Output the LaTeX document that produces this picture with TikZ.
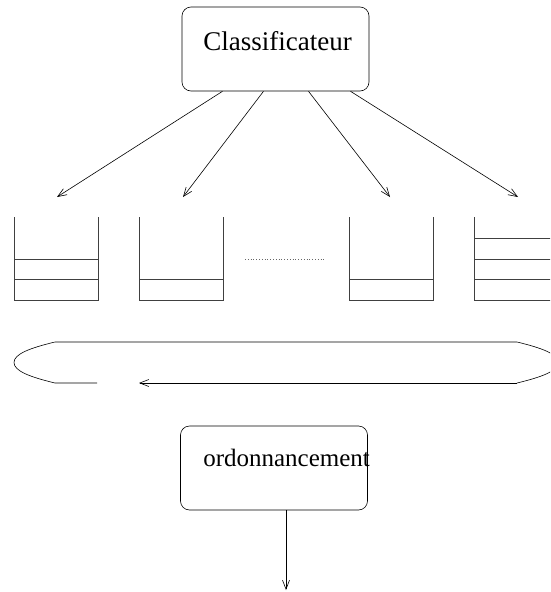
\documentclass[tikz,border=0pt]{standalone}
\usepackage{fontspec}
\setmainfont{Liberation Serif}
\usetikzlibrary{arrows.meta}
\begin{document}
\begin{tikzpicture}[x=1pt,y=-1pt,line width=0.6pt,
  procbox/.style={draw,rounded corners=9pt,minimum width=187pt,minimum height=84pt,inner sep=0pt},
  boxtext/.style={inner sep=0pt,anchor=base west},
  flow/.style={-{Straight Barb[length=9pt,width=7pt,line width=0.6pt]}},
  wall/.style={draw=black!75,line width=0.9pt}]
\useasboundingbox (0,0) rectangle (550,592);
\clip (0,0) rectangle (550,592);

% classifier block
\node[procbox] (cls) at (275.5,49) {};
\node[boxtext,font=\fontsize{27}{32}\selectfont] (clstxt) at (203,50) {Classificateur};

% arrow targets above the queues
\coordinate (t1) at (57,197);
\coordinate (t2) at (183,197);
\coordinate (t3) at (390,197);
\coordinate (t4) at (518,197);
\draw[flow] ([xshift=-53pt]cls.south) -- (t1);
\draw[flow] ([xshift=-12pt]cls.south) -- (t2);
\draw[flow] ([xshift=33pt]cls.south) -- (t3);
\draw[flow] ([xshift=75pt]cls.south) -- (t4);

% queues
\draw[wall] (14,217) -- (14,300) -- (98,300) -- (98,217);
\draw[wall] (14,259) -- (98,259) (14,279) -- (98,279);
\draw[wall] (139,217) -- (139,300) -- (223,300) -- (223,217);
\draw[wall] (139,279) -- (223,279);
\draw[wall] (349,217) -- (349,300) -- (433,300) -- (433,217);
\draw[wall] (349,279) -- (433,279);
\draw[wall] (474,217) -- (474,300) -- (558,300) -- (558,217);
\draw[wall] (474,238) -- (558,238) (474,259) -- (558,259) (474,279) -- (558,279);
\draw[black!60,line width=0.8pt,dotted] (245,259) -- (326,259);

% round-robin loop
\draw (97,383) -- (55,383)
  .. controls (30,377) and (14,371) .. (14,362.5)
  .. controls (14,354) and (30,348) .. (55,342)
  -- (517,342)
  .. controls (542,348) and (558,354) .. (558,362.5)
  .. controls (558,371) and (542,377) .. (517,383);
\draw[flow] (517,383) -- (139,383);

% scheduler block
\node[procbox] (sched) at (274,468) {};
\node[boxtext,font=\fontsize{25}{30}\selectfont] (schedtxt) at (203,466) {ordonnancement};
\coordinate (out) at (286,590);
\draw[flow] (sched.south -| out) -- (out);
\end{tikzpicture}
\end{document}
